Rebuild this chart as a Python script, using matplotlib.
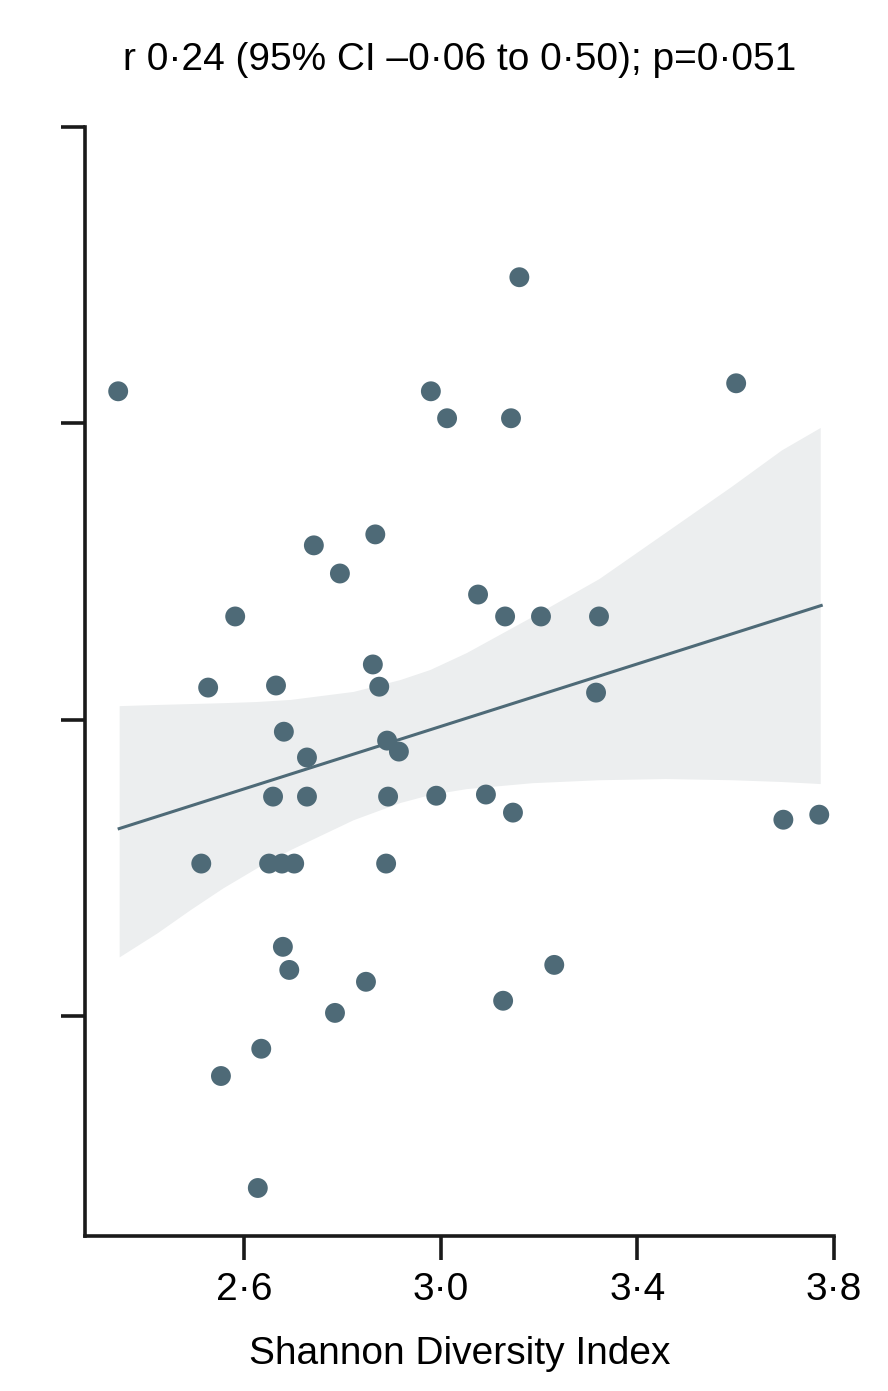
import numpy as np
import matplotlib
matplotlib.use('Agg')
import matplotlib.pyplot as plt

plt.rcParams['font.family'] = ['Liberation Sans Narrow', 'Liberation Sans', 'DejaVu Sans']

# data (y axis is unlabelled in the original)
shannon = [2.344, 3.160, 2.980, 3.013, 3.143, 3.601, 2.867, 2.742, 2.795, 3.076,
           2.582, 3.131, 3.204, 3.322, 2.862, 2.527, 2.665, 2.875, 3.316, 2.681,
           2.891, 2.915, 2.728, 2.659, 2.728, 2.893, 2.991, 3.092, 3.147, 3.697,
           3.770, 2.513, 2.651, 2.677, 2.702, 2.889, 2.679, 2.692, 2.848, 3.231,
           2.785, 3.127, 2.635, 2.553, 2.628]
outcome = [2.108, 2.493, 2.108, 2.017, 2.017, 2.135, 1.625, 1.588, 1.493, 1.422,
           1.348, 1.348, 1.348, 1.348, 1.186, 1.108, 1.115, 1.111, 1.091, 0.959,
           0.929, 0.892, 0.872, 0.740, 0.740, 0.740, 0.743, 0.747, 0.686, 0.662,
           0.679, 0.514, 0.514, 0.514, 0.514, 0.514, 0.233, 0.155, 0.115, 0.172,
           0.010, 0.051, -0.111, -0.203, -0.581]

fit_x = [2.346, 3.774]
fit_y = [0.632, 1.385]

band_x = [2.346, 2.423, 2.490, 2.557, 2.626, 2.694, 2.822, 2.917, 2.978, 3.052,
          3.186, 3.322, 3.457, 3.591, 3.693, 3.772]
band_hi = [1.047, 1.051, 1.054, 1.057, 1.061, 1.068, 1.095, 1.135, 1.169, 1.226,
           1.348, 1.476, 1.632, 1.787, 1.910, 1.986]
band_lo = [0.199, 0.280, 0.358, 0.432, 0.500, 0.561, 0.662, 0.720, 0.747, 0.767,
           0.787, 0.797, 0.801, 0.797, 0.791, 0.784]

xticks = [2.6, 3.0, 3.4, 3.8]
xtick_labels = ['2·6', '3·0', '3·4', '3·8']
yticks = [0, 1, 2, 3]

dot_col = '#4e6a77'
band_col = '#eceeef'

fig = plt.figure(figsize=(8.88, 13.91), dpi=100)
ax = fig.add_axes([85/888, 1 - 1236/1391, (834 - 85)/888, (1236 - 127)/1391])

ax.fill_between(band_x, band_lo, band_hi, color=band_col, lw=0, zorder=1)
ax.plot(fit_x, fit_y, color=dot_col, lw=2.2, zorder=2)
ax.scatter(shannon, outcome, s=205, color=dot_col, edgecolors='none', zorder=3)

ax.set_xlim(2.2765, 3.8)
ax.set_ylim(-0.743, 3.0)
ax.set_xticks(xticks)
ax.set_xticklabels(xtick_labels)
ax.set_yticks(yticks)
ax.set_yticklabels([])

for s in ['top', 'right']:
    ax.spines[s].set_visible(False)
for s in ['left', 'bottom']:
    ax.spines[s].set_linewidth(2.6)
    ax.spines[s].set_color('#1a1a1a')
ax.tick_params(axis='both', direction='out', length=17, width=2.6, color='#1a1a1a')
ax.tick_params(axis='x', labelsize=28, pad=9)

ax.set_xlabel('Shannon Diversity Index', fontsize=28, labelpad=20)
fig.text(0.518, 0.957, 'r 0·24 (95% CI –0·06 to 0·50); p=0·051',
         ha='center', va='center', fontsize=28)

fig.savefig('out.png', dpi=100)
